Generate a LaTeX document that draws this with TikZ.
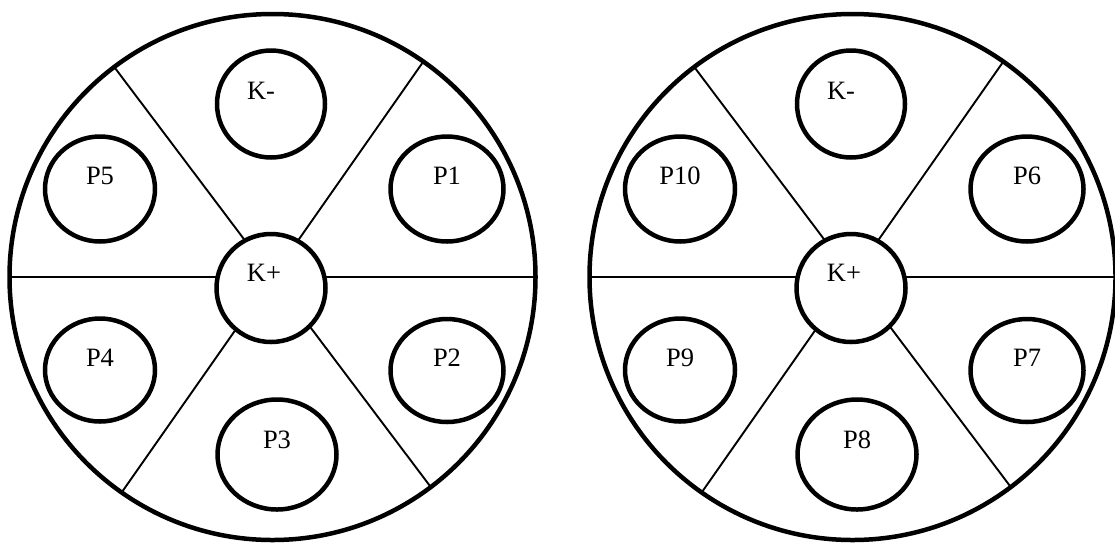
\documentclass[tikz,border=0pt]{standalone}
\usepackage{fontspec}
\setmainfont{Liberation Serif}
\usetikzlibrary{shapes.geometric}
\begin{document}
\begin{tikzpicture}[x=1pt,y=-1pt,
  plate/.style={circle,draw,line width=4.5pt,inner sep=0pt,outer sep=0pt,minimum size=526pt},
  spoke/.style={line width=1.9pt},
  well/.style={ellipse,draw,line width=4.5pt,inner sep=0pt,fill=white},
  lab/.style={font=\fontsize{26.5}{31}\selectfont,inner sep=0pt},
]
\useasboundingbox[fill=white] (0,0) rectangle (1115,542);
\foreach \dx/\s in {0/L,580/R}{
  \begin{scope}[xshift=\dx pt]
    \node[plate] (plate\s) at (272.5,277) {};
    \draw[spoke] (plate\s.west) -- (plate\s.east);
    \draw[spoke] (plate\s.127) -- (plate\s.307);
    \draw[spoke] (plate\s.55) -- (plate\s.235);
    \node[well,minimum width=108pt,minimum height=107pt,
          label={[lab,xshift=-10pt,yshift=13pt]center:K-}] (km\s) at (271,104) {};
    \node[well,minimum width=109pt,minimum height=108pt,
          label={[lab,xshift=-7pt,yshift=15pt]center:K+}] (kp\s) at (271,288) {};
  \end{scope}
}
% left plate wells
\node[well,minimum width=113pt,minimum height=105pt,label={[lab,yshift=13.5pt]center:P1}] (p1) at (447,189) {};
\node[well,minimum width=113pt,minimum height=103pt,label={[lab,yshift=12.5pt]center:P2}] (p2) at (447,370.5) {};
\node[well,minimum width=119pt,minimum height=110pt,label={[lab,yshift=14.5pt]center:P3}] (p3) at (277,454.5) {};
\node[well,minimum width=110pt,minimum height=103pt,label={[lab,yshift=12.5pt]center:P4}] (p4) at (100,370) {};
\node[well,minimum width=110pt,minimum height=105pt,label={[lab,yshift=13.5pt]center:P5}] (p5) at (100,189) {};
% right plate wells
\node[well,minimum width=113pt,minimum height=105pt,label={[lab,yshift=13.5pt]center:P6}] (p6) at (1027,189) {};
\node[well,minimum width=113pt,minimum height=103pt,label={[lab,yshift=12.5pt]center:P7}] (p7) at (1027,370.5) {};
\node[well,minimum width=119pt,minimum height=110pt,label={[lab,yshift=14.5pt]center:P8}] (p8) at (857,454.5) {};
\node[well,minimum width=110pt,minimum height=103pt,label={[lab,yshift=12.5pt]center:P9}] (p9) at (680,370) {};
\node[well,minimum width=110pt,minimum height=105pt,label={[lab,yshift=13.5pt]center:P10}] (p10) at (680,189) {};
\end{tikzpicture}
\end{document}
